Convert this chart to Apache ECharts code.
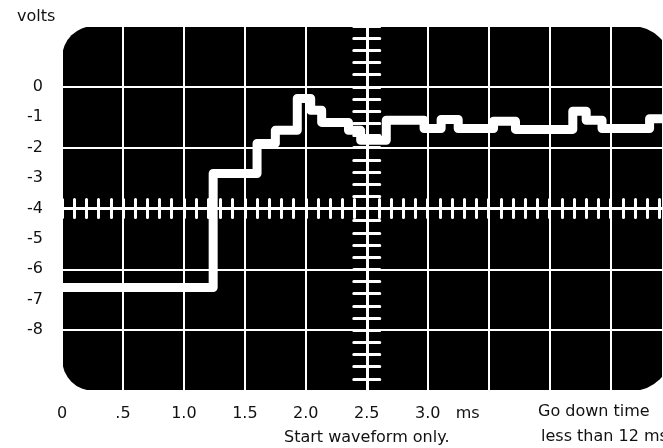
<!DOCTYPE html>
<html><head><meta charset="utf-8">
<script src="https://cdn.jsdelivr.net/npm/echarts@6/dist/echarts.min.js"></script>
<style>html,body{margin:0;padding:0;background:#fff}#c{width:663px;height:448px}</style>
</head><body><div id="c"></div>
<script>
// ---- data ----
const stepTimes = [0, 1.24, 1.60, 1.75, 1.93, 2.04, 2.13, 2.35, 2.45, 2.66, 2.97, 3.11, 3.25, 3.54, 3.72, 4.19, 4.30, 4.43, 4.82, 5.0];
const stepVolts = [-6.6, -2.85, -1.86, -1.43, -0.38, -0.77, -1.17, -1.43, -1.76, -1.1, -1.37, -1.07, -1.37, -1.13, -1.4, -0.8, -1.1, -1.37, -1.05, -1.05];
const xTickLabels = ['0', '.5', '1.0', '1.5', '2.0', '2.5', '3.0'];
const xUnit = 'ms';
const yTickLabels = ['0', '-1', '-2', '-3', '-4', '-5', '-6', '-7', '-8'];
const yName = 'volts';
const xName = 'Start waveform only.';
const noteLine1 = 'Go down time';
const noteLine2 = 'less than 12 ms';
const screenTimes = [0, 5];      // full scope screen (partly cut off on the right)
const visibleMaxTime = 4.93;     // what fits in the picture
const screenVolts = [-10, 2];
const traceCenter = { time: 2.5, volts: -4 };

const FONT = 'DejaVu Sans';
const FS = 16;
const TXT = '#111';
const chart = echarts.init(document.getElementById('c'), null, { renderer: 'canvas' });

const hiddenAxisParts = {
  axisLine: { show: false, onZero: false },
  axisTick: { show: false },
  axisLabel: { show: false },
  splitLine: { show: false }
};

function tickAxisX(inside) {
  return {
    type: 'value', position: 'bottom', min: screenTimes[0], max: visibleMaxTime, interval: 0.1,
    axisLine: { show: true, onZero: true, onZeroAxisIndex: 2, lineStyle: { color: '#fff', width: 3 } },
    axisTick: { show: true, inside: inside, length: 9, lineStyle: { color: '#fff', width: 3, cap: 'round' } },
    axisLabel: { show: false }, splitLine: { show: false }
  };
}
function tickAxisY(inside) {
  return {
    type: 'value', position: 'left', min: screenVolts[0], max: screenVolts[1], interval: 0.4,
    axisLine: { show: true, onZero: true, onZeroAxisIndex: 3, lineStyle: { color: '#fff', width: 3 } },
    axisTick: { show: true, inside: inside, length: 13, lineStyle: { color: '#fff', width: 3, cap: 'round' } },
    axisLabel: { show: false }, splitLine: { show: false }
  };
}
const titleStyle = { fontFamily: FONT, fontSize: FS, fontWeight: 'normal', color: TXT };

const option = {
  animation: false,
  backgroundColor: '#fff',
  title: [
    { text: yName, left: 17, top: 9, padding: 0, textStyle: titleStyle },
    { text: noteLine1, left: 538, top: 404, padding: 0, textStyle: titleStyle },
    { text: noteLine2, left: 541, top: 429, padding: 0, textStyle: titleStyle }
  ],
  grid: { left: 62, right: 0, top: 26, bottom: 57 },
  xAxis: [
    { type: 'value', position: 'bottom', min: screenTimes[0], max: visibleMaxTime, interval: 0.5,
      axisLine: { show: false, onZero: false }, axisTick: { show: false },
      splitLine: { show: true, lineStyle: { color: '#fff', width: 2 } },
      axisLabel: {
        show: true, margin: 15, fontFamily: FONT, fontSize: FS, color: TXT,
        showMaxLabel: false,
        rich: { h: { color: 'rgba(0,0,0,0)', fontFamily: FONT, fontSize: FS } },
        formatter: function (v) {
          const i = Math.round(v / 0.5);
          if (Math.abs(v - i * 0.5) > 1e-6 || i < 0 || i >= xTickLabels.length) return '';
          if (i === xTickLabels.length - 1) return '{h|' + xUnit + '   }' + xTickLabels[i] + '   ' + xUnit;
          return xTickLabels[i];
        }
      } },
    tickAxisX(true),
    tickAxisX(false),
    Object.assign({ type: 'value', position: 'top',
      min: screenTimes[0] - traceCenter.time, max: visibleMaxTime - traceCenter.time }, hiddenAxisParts)
  ],
  yAxis: [
    { type: 'value', position: 'left', min: screenVolts[0], max: screenVolts[1], interval: 1,
      axisLine: { show: false, onZero: false }, axisTick: { show: false }, splitLine: { show: false },
      axisLabel: {
        show: true, margin: 19, fontFamily: FONT, fontSize: FS, color: TXT,
        formatter: function (v) {
          const i = Math.round(-v);
          if (v > 1e-6 || i >= yTickLabels.length) return '';
          return yTickLabels[i];
        }
      } },
    { type: 'value', position: 'left', min: screenVolts[0], max: screenVolts[1], interval: 2,
      axisLine: { show: false, onZero: false }, axisTick: { show: false }, axisLabel: { show: false },
      splitLine: { show: true, lineStyle: { color: '#fff', width: 2 } } },
    Object.assign({ type: 'value', position: 'right',
      min: screenVolts[0] - traceCenter.volts, max: screenVolts[1] - traceCenter.volts }, hiddenAxisParts),
    tickAxisY(true),
    tickAxisY(false)
  ],
  series: [{
    type: 'line', xAxisIndex: 0, yAxisIndex: 0, step: 'end', symbol: 'none', z: 10,
    lineStyle: { color: '#fff', width: 9, join: 'round', cap: 'round' },
    data: stepTimes.map((t, i) => [t, stepVolts[i]])
  }]
};
chart.setOption(option);

const p1 = chart.convertToPixel({ xAxisIndex: 0, yAxisIndex: 0 }, [screenTimes[0], screenVolts[1]]);
const p2 = chart.convertToPixel({ xAxisIndex: 0, yAxisIndex: 0 }, [screenTimes[1], screenVolts[0]]);
const pc = chart.convertToPixel({ xAxisIndex: 0, yAxisIndex: 0 }, [traceCenter.time, screenVolts[0]]);
chart.setOption({
  graphic: [
    { type: 'rect', z: -1, silent: true,
      shape: { x: p1[0], y: p1[1], width: p2[0] - p1[0], height: p2[1] - p1[1], r: [32, 40, 40, 32] },
      style: { fill: '#000' } },
    { type: 'text', silent: true, x: pc[0], y: pc[1] + 39,
      style: { text: xName, fill: TXT, font: FS + 'px "' + FONT + '"', textAlign: 'center', textVerticalAlign: 'top' } }
  ]
});
</script></body></html>
